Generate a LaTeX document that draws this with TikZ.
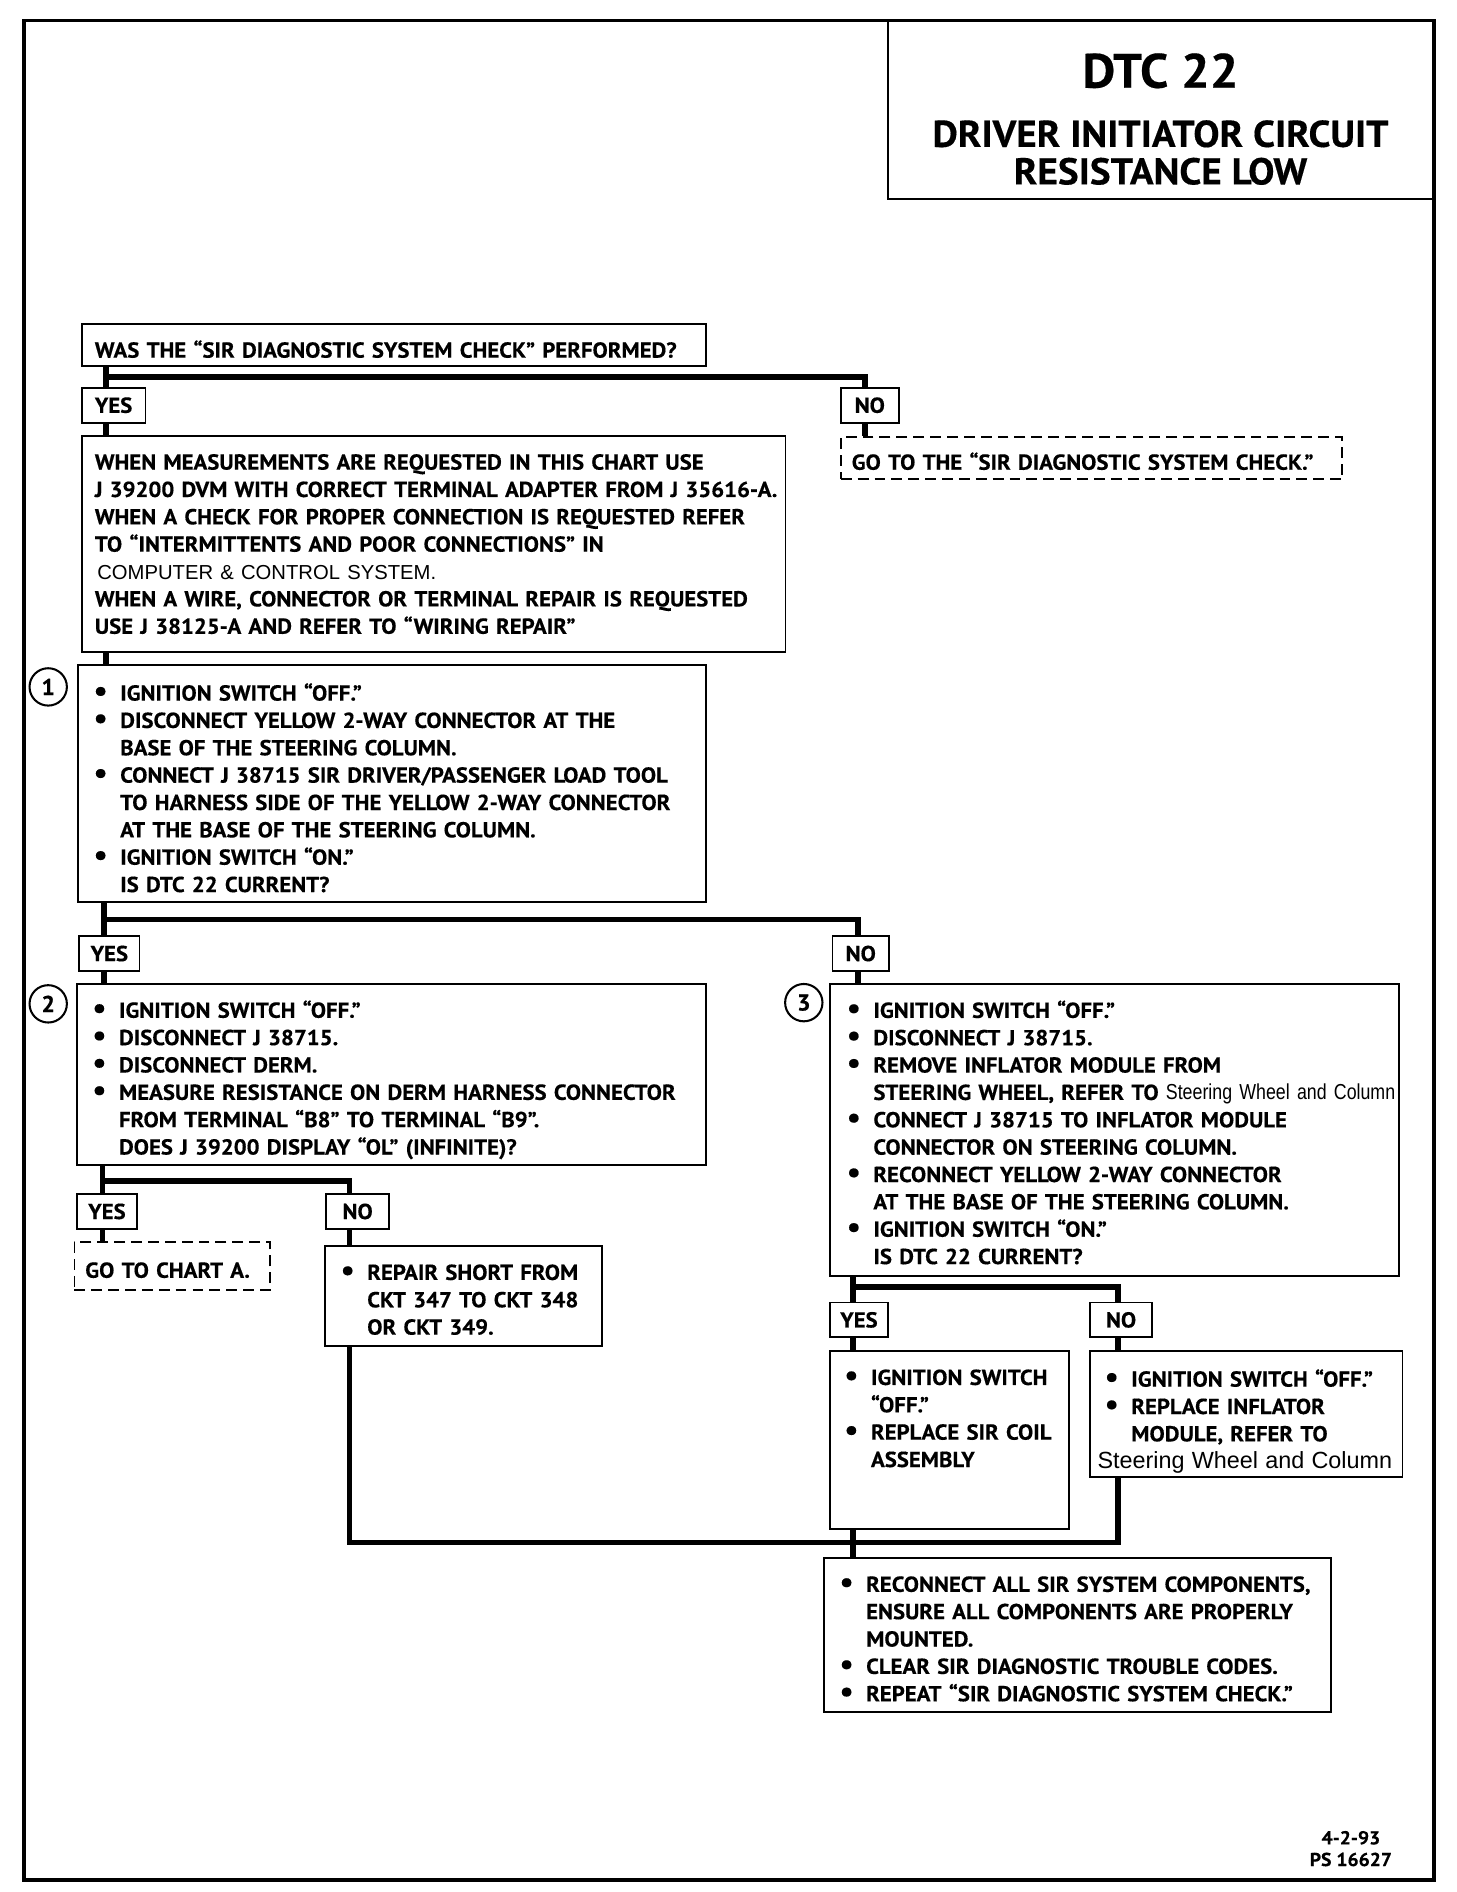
\documentclass[tikz,border=0pt]{standalone}
\usepackage{graphicx}
\usepackage{fontspec}
\setmainfont{PT Sans}[FakeStretch = 1.05, BoldFeatures = {FakeBold = 0.4}]
\newfontfamily\arialfont{Liberation Sans}
\newfontfamily\narrowfont{Liberation Sans}[FakeStretch = 0.82]
\usetikzlibrary{positioning}

\newcommand{\bodyfont}{\fontsize{18}{22.7}\selectfont\bfseries}
\newcommand{\bul}{\makebox[22pt][l]{\scalebox{1.35}{\textbullet}}}
\newcommand{\ind}{\hspace*{22pt}}
\newcommand{\rows}[2][10pt]{\raisebox{0pt}[\dimexpr\height+#1\relax][\depth]{\begin{tabular}{@{}l@{}}#2\end{tabular}}}

\tikzset{
  box/.style = {draw, line width = 1.5pt, anchor = north west, align = left, inner ysep = 0pt},
  gobox/.style = {box, dash pattern = on 9pt off 5pt},
  tag/.style = {draw, line width = 1.5pt, anchor = north west, inner sep = 0pt, minimum height = 29pt},
  stepnum/.style = {draw, circle, line width = 1.7pt, minimum size = 31pt, inner sep = 0pt, font = \fontsize{19}{20}\selectfont\bfseries},
  link/.style = {line width = 4.8pt, line join = miter}
}

\begin{document}
\begin{tikzpicture}[x = 1pt, y = -1pt, font = \bodyfont]
	\useasboundingbox (0, 0) rectangle (1208.2, 1570);
	\draw [line width = 3pt] (20, 17) rectangle (1190, 1560);
	\draw [line width = 1.5pt] (737, 17) |- (1190, 165);
	\node [anchor = north, inner sep = 0pt, font = \fontsize{31}{30}\selectfont\bfseries] (title) at (963, 44)
		{\begin{tabular}{@{}c@{}}{\fontsize{40}{44}\selectfont DTC 22}\\[18pt] DRIVER INITIATOR CIRCUIT\\ RESISTANCE LOW\end{tabular}};

	\node [box, inner xsep = 11pt, text width = 496pt, minimum height = 35pt] (q1) at (67, 268)
		{\rows[12pt]{WAS THE “SIR DIAGNOSTIC SYSTEM CHECK” PERFORMED?}};
	\node [tag, minimum width = 53pt] (t1y) at (67, 321) {YES};
	\node [tag, minimum width = 48pt] (t1n) at (697, 321) {NO};
	\node [gobox, inner xsep = 9pt, text width = 398pt, minimum height = 35pt] (goback) at (697, 362)
		{\rows{GO TO THE “SIR DIAGNOSTIC SYSTEM CHECK.”}};
	\node [box, inner xsep = 11pt, text width = 562pt, minimum height = 179pt] (info) at (67, 361)
		{\rows[4pt]{WHEN MEASUREMENTS ARE REQUESTED IN THIS CHART USE\\
		J 39200 DVM WITH CORRECT TERMINAL ADAPTER FROM J 35616-A.\\
		WHEN A CHECK FOR PROPER CONNECTION IS REQUESTED REFER\\
		TO “INTERMITTENTS AND POOR CONNECTIONS” IN\\
		{\arialfont\mdseries\fontsize{16.8}{22.7}\selectfont\hspace*{2pt}COMPUTER \& CONTROL SYSTEM.}\\
		WHEN A WIRE, CONNECTOR OR TERMINAL REPAIR IS REQUESTED\\
		USE J 38125-A AND REFER TO “WIRING REPAIR”}};

	% step 1
	\node [box, inner xsep = 13pt, text width = 495pt, minimum height = 197pt] (s1) at (64, 551)
		{\rows[12pt]{\bul IGNITION SWITCH “OFF.”\\
		\bul DISCONNECT YELLOW 2-WAY CONNECTOR AT THE\\
		\ind BASE OF THE STEERING COLUMN.\\
		\bul CONNECT J 38715 SIR DRIVER/PASSENGER LOAD TOOL\\
		\ind TO HARNESS SIDE OF THE YELLOW 2-WAY CONNECTOR\\
		\ind AT THE BASE OF THE STEERING COLUMN.\\
		\bul IGNITION SWITCH “ON.”\\
		\ind IS DTC 22 CURRENT?}};
	\node [stepnum] (n1) at (40, 570) {1};
	\node [tag, minimum width = 50pt] (t2y) at (65, 776) {YES};
	\node [tag, minimum width = 47pt] (t2n) at (690, 776) {NO};

	% step 2
	\node [box, inner xsep = 13pt, text width = 496pt, minimum height = 150pt] (s2) at (63, 816)
		{\rows{\bul IGNITION SWITCH “OFF.”\\
		\bul DISCONNECT J 38715.\\
		\bul DISCONNECT DERM.\\
		\bul MEASURE RESISTANCE ON DERM HARNESS CONNECTOR\\
		\ind FROM TERMINAL “B8” TO TERMINAL “B9”.\\
		\ind DOES J 39200 DISPLAY “OL” (INFINITE)?}};
	\node [stepnum] (n2) at (40, 833) {2};
	\node [tag, minimum width = 50pt] (t3y) at (63, 990) {YES};
	\node [tag, minimum width = 52pt] (t3n) at (270, 990) {NO};
	\node [gobox, inner xsep = 9pt, text width = 144pt, minimum height = 40pt] (charta) at (61, 1030)
		{\rows{GO TO CHART A.}};
	\node [box, inner xsep = 13pt, text width = 204pt, minimum height = 83pt] (repair) at (269, 1033)
		{\rows{\bul REPAIR SHORT FROM\\
		\ind CKT 347 TO CKT 348\\
		\ind OR CKT 349.}};

	% step 3
	\node [box, inner xsep = 14pt, text width = 444pt, minimum height = 242pt] (s3) at (688, 816)
		{\rows[9pt]{\bul IGNITION SWITCH “OFF.”\\
		\bul DISCONNECT J 38715.\\
		\bul REMOVE INFLATOR MODULE FROM\\
		\ind STEERING WHEEL, REFER TO {\narrowfont\mdseries\fontsize{18}{22.7}\selectfont Steering Wheel and Column}\\
		\bul CONNECT J 38715 TO INFLATOR MODULE\\
		\ind CONNECTOR ON STEERING COLUMN.\\
		\bul RECONNECT YELLOW 2-WAY CONNECTOR\\
		\ind AT THE BASE OF THE STEERING COLUMN.\\
		\bul IGNITION SWITCH “ON.”\\
		\ind IS DTC 22 CURRENT?}};
	\node [stepnum] (n3) at (667, 832) {3};
	\node [tag, minimum width = 48pt] (t4y) at (688, 1080) {YES};
	\node [tag, minimum width = 51pt] (t4n) at (904, 1080) {NO};
	\node [box, inner xsep = 12pt, text width = 174pt, minimum height = 148pt] (coil) at (688, 1120)
		{\rows[0pt]{\bul IGNITION SWITCH\\
		\ind “OFF.”\\
		\bul REPLACE SIR COIL\\
		\ind ASSEMBLY\\[32pt]}};
	\node [box, inner xsep = 12pt, text width = 235pt, minimum height = 102pt] (inflator) at (904, 1120)
		{\rows[14pt]{\bul IGNITION SWITCH “OFF.”\\
		\bul REPLACE INFLATOR\\
		\ind MODULE, REFER TO\\
		{\arialfont\mdseries\fontsize{19.4}{22.7}\selectfont\hspace*{-6pt}Steering Wheel and Column}}};
	\node [box, inner xsep = 13pt, text width = 395pt, minimum height = 128pt] (final) at (683, 1292)
		{\rows{\bul RECONNECT ALL SIR SYSTEM COMPONENTS,\\
		\ind ENSURE ALL COMPONENTS ARE PROPERLY\\
		\ind MOUNTED.\\
		\bul CLEAR SIR DIAGNOSTIC TROUBLE CODES.\\
		\bul REPEAT “SIR DIAGNOSTIC SYSTEM CHECK.”}};
	\node [font = \fontsize{15.5}{18}\selectfont\bfseries, align = center] (code) at (1121, 1534) {4-2-93\\PS 16627};

	% connectors
	\coordinate (j1) at (88, 313);
	\coordinate (k1) at (718, 313);
	\coordinate (j2) at (86, 763);
	\coordinate (k2) at (712, 763);
	\coordinate (j3) at (85, 980);
	\coordinate (k3) at (290, 980);
	\coordinate (j4) at (708, 1068);
	\coordinate (k4) at (928, 1068);
	\coordinate (j5) at (708, 1280);
	\draw [link] (q1.south -| j1) -- (t1y.north -| j1);
	\draw [link] (j1) -- (k1) -- (t1n.north -| k1);
	\draw [link] (t1y.south -| j1) -- (info.north -| j1);
	\draw [link] (t1n.south -| k1) -- (goback.north -| k1);
	\draw [link] (info.south -| j1) -- (s1.north -| j1);
	\draw [link] (s1.south -| j2) -- (t2y.north -| j2);
	\draw [link] (j2) -- (k2) -- (t2n.north -| k2);
	\draw [link] (t2y.south -| j2) -- (s2.north -| j2);
	\draw [link] (t2n.south -| k2) -- (s3.north -| k2);
	\draw [link] (s2.south -| j3) -- (t3y.north -| j3);
	\draw [link] (j3) -- (k3) -- (t3n.north -| k3);
	\draw [link] (t3y.south -| j3) -- (charta.north -| j3);
	\draw [link] (t3n.south -| k3) -- (repair.north -| k3);
	\draw [link] (s3.south -| j4) -- (t4y.north -| j4);
	\draw [link] (j4) -- (k4) -- (t4n.north -| k4);
	\draw [link] (t4y.south -| j4) -- (coil.north -| j4);
	\draw [link] (t4n.south -| k4) -- (inflator.north -| k4);
	\draw [link] (repair.south -| k3) -- (k3 |- j5) -- (k4 |- j5) -- (inflator.south -| k4);
	\draw [link] (coil.south -| j4) -- (final.north -| j4);
\end{tikzpicture}
\end{document}
